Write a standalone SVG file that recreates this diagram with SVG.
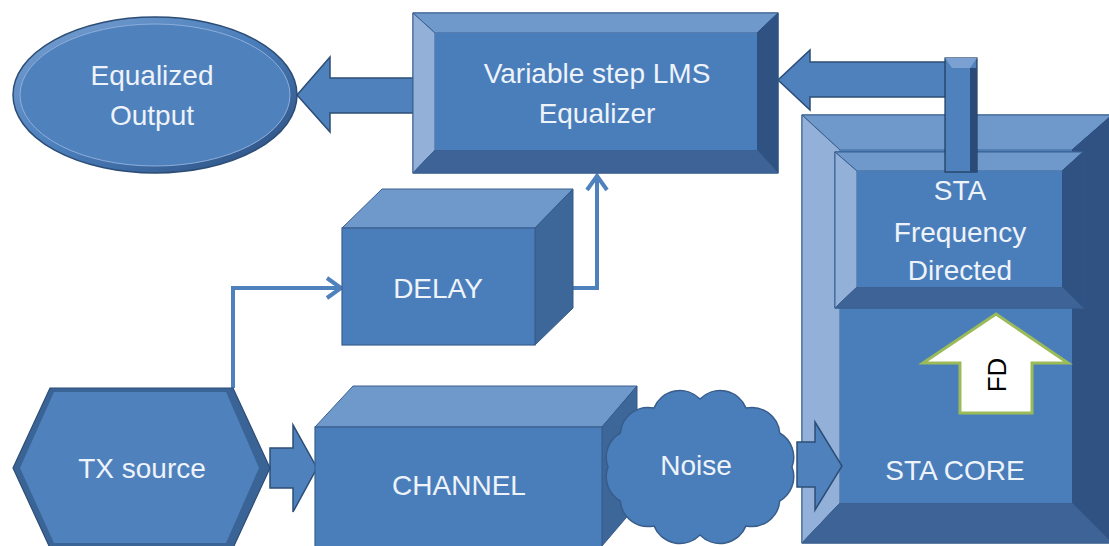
<svg xmlns="http://www.w3.org/2000/svg" width="1109" height="546" viewBox="0 0 1109 546">
<style>
.face{fill:#4a7ebb;stroke:#3a6090;stroke-width:1.2}
.btop{fill:#7099cb;stroke:#3a6090;stroke-width:1}
.bleft{fill:#93b1d8;stroke:#3a6090;stroke-width:1}
.bright{fill:#2f5283;stroke:#2f5283;stroke-width:1}
.bbot{fill:#3e6497;stroke:#3a6090;stroke-width:1}
.side{fill:#3d6699;stroke:#345a88;stroke-width:1}
.lbl{font-family:"Liberation Sans",Arial,sans-serif;font-size:28px;fill:#eef3fa;text-anchor:middle}
.conn{fill:none;stroke:#4f81bd;stroke-width:4;stroke-linejoin:miter}
.barrow{fill:#4f81bd;stroke:#2c4d75;stroke-width:1.5;stroke-linejoin:miter}
</style>
<defs>
<linearGradient id="rim" x1="0" y1="0" x2="1" y2="1">
<stop offset="0" stop-color="#7aa1d1"/>
<stop offset="0.5" stop-color="#4a7ebb"/>
<stop offset="1" stop-color="#2a4c7c"/>
</linearGradient>
</defs>

<g id="connectors">
<path class="conn" d="M233,388 V288 H340"/>
<path class="conn" d="M327,278 L341,288 L327,298"/>
<path class="conn" d="M535,288 H597 V177"/>
<path class="conn" d="M587,190 L597,176 L607,190"/>
<polygon class="barrow" points="418,78 330,78 330,57 297,95 330,132 330,113 418,113"/>
<polygon class="barrow" points="270,448 293,448 293,425 317,468 293,512 293,488 270,488"/>
<polygon class="barrow" points="960,62 810,62 810,50 778,80 810,110 810,97 960,97"/>
</g>

<g id="equalized-output">
<ellipse cx="155" cy="95" rx="142" ry="78" fill="url(#rim)" stroke="#2c4d75" stroke-width="1.5"/>
<ellipse cx="155" cy="95" rx="135" ry="71" fill="#4f81bd" stroke="#8eaedb" stroke-width="1"/>
<text class="lbl" x="152" y="85">Equalized</text>
<text class="lbl" x="152" y="125">Output</text>
</g>

<g id="lms-equalizer">
<rect x="413" y="13" width="365" height="160" class="face"/>
<polygon class="btop" points="413,13 778,13 757,33 435,33"/>
<polygon class="bleft" points="413,13 435,33 435,150 413,173"/>
<polygon class="bright" points="778,13 778,173 757,150 757,33"/>
<polygon class="bbot" points="413,173 435,150 757,150 778,173"/>
<rect x="435" y="33" width="322" height="117" fill="#4a7ebb"/>
<text class="lbl" x="597" y="83">Variable step LMS</text>
<text class="lbl" x="597" y="123">Equalizer</text>
</g>

<g id="delay">
<polygon class="btop" points="342,228 382,189 573,189 535,228"/>
<polygon class="side" points="535,228 573,189 573,308 535,345"/>
<rect x="342" y="228" width="193" height="117" class="face"/>
<text class="lbl" x="438" y="298">DELAY</text>
</g>

<g id="tx-source">
<polygon points="13,468 50,388 233,388 270,468 233,548 50,548" fill="#3b6496" stroke="#2c4d75" stroke-width="1.2"/>
<polygon points="20,468 54,392 226,392 259,468 226,543 54,543" fill="#4f81bd"/>
<text class="lbl" x="142" y="478">TX source</text>
</g>

<g id="channel">
<polygon class="btop" points="315,427 353,386 637,386 602,427"/>
<polygon class="side" points="602,427 637,386 637,505 602,546"/>
<rect x="315" y="427" width="287" height="122" class="face"/>
<text class="lbl" x="459" y="495">CHANNEL</text>
</g>

<g id="noise">
<path d="M608,467 A28,28 0 0 1 620.3,433 A28,28 0 0 1 654,408.1 A28,28 0 0 1 700,399 A28,28 0 0 1 746,408.1 A28,28 0 0 1 779.7,433 A28,28 0 0 1 792,467 A28,28 0 0 1 779.7,501 A28,28 0 0 1 746,525.9 A28,28 0 0 1 700,535 A28,28 0 0 1 654,525.9 A28,28 0 0 1 620.3,501 A28,28 0 0 1 608,467 Z" fill="#4a7ebb" stroke="#385d8a" stroke-width="1.5"/>
<text class="lbl" x="696" y="475">Noise</text>
</g>

<g id="sta-core">
<rect x="802" y="115" width="310" height="428" class="face"/>
<polygon class="btop" points="802,115 1112,115 1072,150 840,150"/>
<polygon class="bleft" points="802,115 840,150 840,503 802,543"/>
<polygon class="bright" points="1112,115 1112,543 1072,503 1072,150"/>
<polygon class="bbot" points="802,543 840,503 1072,503 1112,543"/>
<rect x="840" y="150" width="232" height="353" fill="#4a7ebb"/>
<text class="lbl" x="955" y="480">STA CORE</text>
</g>

<polygon class="barrow" points="797,442 815,442 815,422 842,466 815,510 815,487 797,487"/>

<g id="sta-frequency">
<rect x="835" y="152" width="248" height="156" class="face"/>
<polygon class="btop" points="835,152 1083,152 1062,171 857,171"/>
<polygon class="bleft" points="835,152 857,171 857,287 835,308"/>
<polygon class="bright" points="1083,152 1083,308 1062,287 1062,171"/>
<polygon class="bbot" points="835,308 857,287 1062,287 1083,308"/>
<rect x="857" y="171" width="205" height="116" fill="#4a7ebb"/>
<text class="lbl" x="960" y="200">STA</text>
<text class="lbl" x="960" y="242">Frequency</text>
<text class="lbl" x="960" y="280">Directed</text>
</g>

<g id="bent-arrow-bar">
<rect x="945" y="58" width="32" height="114" fill="#4f81bd" stroke="#1f3a5c" stroke-width="1.2"/>
<polygon points="945,58 977,58 970,68 952,68" fill="#7aa1d1"/>
<rect x="970" y="68" width="7" height="104" fill="#2a4a78"/>
</g>

<g id="fd-arrow">
<polygon points="996,314 1068,363 1032,363 1032,413 960,413 960,363 923,363" fill="#ffffff" stroke="#9bbb59" stroke-width="3"/>
<text x="0" y="0" transform="translate(1006,375) rotate(-90)" font-family="Liberation Sans,Arial,sans-serif" font-size="26" fill="#000000" text-anchor="middle">FD</text>
</g>
</svg>
